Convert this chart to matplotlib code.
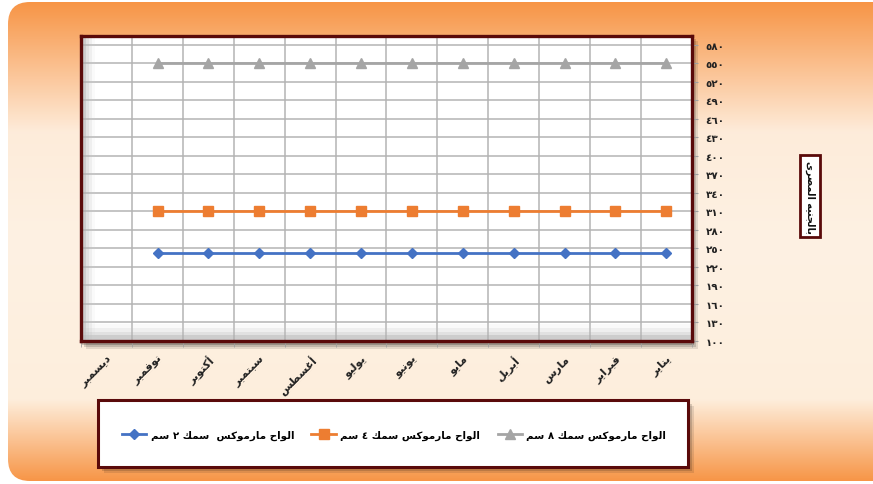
import numpy as np
import matplotlib
matplotlib.use("Agg")
import matplotlib.pyplot as plt
from matplotlib.patches import FancyBboxPatch, Rectangle
from matplotlib.ticker import FixedLocator, FuncFormatter

# ---------------- data ----------------
months = ["يناير", "فبراير", "مارس", "أبريل", "مايو", "يونيو",
          "يوليو", "أغسطس", "سبتمبر", "أكتوبر", "نوفمبر", "ديسمبر"]
s2_name = "الواح مارموكس  سمك ٢ سم"
s4_name = "الواح مارموكس سمك ٤ سم"
s8_name = "الواح مارموكس سمك ٨ سم"
s2_vals = [243, 243, 243, 243, 243, 243, 243, 243, 243, 243, 243, np.nan]
s4_vals = [310, 310, 310, 310, 310, 310, 310, 310, 310, 310, 310, np.nan]
s8_vals = [550, 550, 550, 550, 550, 550, 550, 550, 550, 550, 550, np.nan]
y_ticks = list(range(100, 581, 30))
y_title = "بالجنيه المصرى"

# ---------------- arabic shaping helper ----------------
FORMS = {
    'ا': ('\uFE8D', '\uFE8E', None, None),
    'أ': ('\uFE83', '\uFE84', None, None),
    'ب': ('\uFE8F', '\uFE90', '\uFE91', '\uFE92'),
    'ت': ('\uFE95', '\uFE96', '\uFE97', '\uFE98'),
    'ج': ('\uFE9D', '\uFE9E', '\uFE9F', '\uFEA0'),
    'ح': ('\uFEA1', '\uFEA2', '\uFEA3', '\uFEA4'),
    'د': ('\uFEA9', '\uFEAA', None, None),
    'ر': ('\uFEAD', '\uFEAE', None, None),
    'س': ('\uFEB1', '\uFEB2', '\uFEB3', '\uFEB4'),
    'ص': ('\uFEB9', '\uFEBA', '\uFEBB', '\uFEBC'),
    'ط': ('\uFEC1', '\uFEC2', '\uFEC3', '\uFEC4'),
    'غ': ('\uFECD', '\uFECE', '\uFECF', '\uFED0'),
    'ف': ('\uFED1', '\uFED2', '\uFED3', '\uFED4'),
    'ك': ('\uFED9', '\uFEDA', '\uFEDB', '\uFEDC'),
    'ل': ('\uFEDD', '\uFEDE', '\uFEDF', '\uFEE0'),
    'م': ('\uFEE1', '\uFEE2', '\uFEE3', '\uFEE4'),
    'ن': ('\uFEE5', '\uFEE6', '\uFEE7', '\uFEE8'),
    'ه': ('\uFEE9', '\uFEEA', '\uFEEB', '\uFEEC'),
    'و': ('\uFEED', '\uFEEE', None, None),
    'ي': ('\uFEF1', '\uFEF2', '\uFEF3', '\uFEF4'),
    'ى': ('\uFEEF', '\uFEF0', None, None),
}


def shape(s):
    chars = list(s)
    tokens = []
    i = 0
    while i < len(chars):
        c = chars[i]
        if c == 'ل' and i + 1 < len(chars) and chars[i + 1] in ('ا', 'أ'):
            tokens.append('LA' if chars[i + 1] == 'ا' else 'LAH')
            i += 2
        else:
            tokens.append(c)
            i += 1

    def dual(t):
        return t in FORMS and FORMS[t][2] is not None

    def joins(t):
        return t in FORMS or t in ('LA', 'LAH')

    res = []
    for k, t in enumerate(tokens):
        prev = tokens[k - 1] if k > 0 else None
        nxt = tokens[k + 1] if k + 1 < len(tokens) else None
        jp = prev is not None and dual(prev)
        if t in ('LA', 'LAH'):
            iso, fin = ('\uFEFB', '\uFEFC') if t == 'LA' else ('\uFEF7', '\uFEF8')
            res.append(fin if jp else iso)
            continue
        if t not in FORMS:
            res.append(t)
            continue
        f = FORMS[t]
        jn = f[2] is not None and nxt is not None and joins(nxt)
        if jp and jn:
            res.append(f[3])
        elif jp:
            res.append(f[1])
        elif jn:
            res.append(f[2])
        else:
            res.append(f[0])
    return ''.join(reversed(res))


AR_DIGITS = str.maketrans('0123456789', '٠١٢٣٤٥٦٧٨٩')

# ---------------- figure ----------------
W, H = 873, 485
fig = plt.figure(figsize=(W / 100, H / 100), dpi=100)
fig.patch.set_facecolor('white')

# background decoration axes in pixel coordinates
bg = fig.add_axes([0, 0, 1, 1])
bg.set_xlim(0, W)
bg.set_ylim(H, 0)
bg.axis('off')
stops = [(0.0, (0.969, 0.584, 0.275)), (0.27, (0.996, 0.925, 0.855)),
         (0.50, (0.996, 0.945, 0.890)), (0.83, (0.996, 0.935, 0.865)),
         (1.0, (0.969, 0.588, 0.282))]
n = 300
t = np.linspace(0, 1, n)
grad = np.zeros((n, 1, 3))
for ch in range(3):
    grad[:, 0, ch] = np.interp(t, [s[0] for s in stops], [s[1][ch] for s in stops])
im = bg.imshow(grad, extent=(8, W + 40, 482, 3), aspect='auto', zorder=0)
clip = FancyBboxPatch((8, 3), W + 30, 479, boxstyle="round,pad=0,rounding_size=22",
                      transform=bg.transData, facecolor='none', edgecolor='none')
bg.add_patch(clip)
im.set_clip_path(clip)

# shadows for plot area and legend box
for off, a in [(6, 0.10), (4, 0.15), (2, 0.2)]:
    bg.add_patch(Rectangle((80 + off, 36 + off), 612, 308, facecolor='black',
                           alpha=a, edgecolor='none', zorder=1))
    bg.add_patch(Rectangle((98 + off, 401 + off), 590, 67, facecolor='black',
                           alpha=a, edgecolor='none', zorder=1))
# legend box
bg.add_patch(Rectangle((98, 401), 590, 67, facecolor='white', edgecolor='#5A0A0A',
                       linewidth=2.2, zorder=2))

# ---------------- main axes ----------------
x0, x1 = 81.3, 691.7
ytop, ybot = 37.0, 341.7
ax = fig.add_axes([x0 / W, 1 - ybot / H, (x1 - x0) / W, (ybot - ytop) / H])
ax.set_facecolor('white')

x = np.arange(len(months))
ax.plot(x, s2_vals, color='#4472C4', lw=2, marker='D', ms=5.5, label=shape(s2_name), zorder=5)
ax.plot(x, s4_vals, color='#ED7D31', lw=2, marker='s', ms=7, label=shape(s4_name), zorder=5)
ax.plot(x, s8_vals, color='#A5A5A5', lw=2, marker='^', ms=7, label=shape(s8_name), zorder=5)

ax.set_xlim(len(months) - 0.5, -0.5)
ax.set_ylim(100, 594.6)

# bevel effect on left and bottom inside plot area
for i, (a, c) in enumerate([(0.35, '#A0A0A0'), (0.25, '#B0B0B0'), (0.18, '#C0C0C0'), (0.1, '#D0D0D0')]):
    ax.add_patch(Rectangle((0, 0), 1, 0.018 + i * 0.012, transform=ax.transAxes,
                           facecolor=c, alpha=a, edgecolor='none', zorder=1))
    ax.add_patch(Rectangle((0, 0), 0.008 + i * 0.005, 1, transform=ax.transAxes,
                           facecolor=c, alpha=a, edgecolor='none', zorder=1))

ax.yaxis.tick_right()
ax.yaxis.set_major_locator(FixedLocator(y_ticks))
ax.yaxis.set_major_formatter(FuncFormatter(lambda v, p: str(int(round(v))).translate(AR_DIGITS)))
ax.tick_params(axis='y', which='major', direction='out', length=4, color='#A0A0A0',
               pad=6, labelsize=7.5, labelcolor='#222222')
for lab in ax.get_yticklabels():
    lab.set_fontweight('bold')

ax.xaxis.set_major_locator(FixedLocator(x))
ax.set_xticklabels([shape(m) for m in months], rotation=45, ha='right', va='top',
                   rotation_mode='anchor', fontsize=8, fontweight='bold', color='#222222')
ax.xaxis.set_minor_locator(FixedLocator(np.arange(-0.5, len(months), 1.0)))
ax.tick_params(axis='x', which='major', length=0, pad=9)
ax.tick_params(axis='x', which='minor', length=4, color='#A0A0A0', direction='out')

ax.grid(axis='y', which='major', color='#B4B4B4', lw=1.1, zorder=0)
ax.grid(axis='x', which='minor', color='#B4B4B4', lw=1.1, zorder=0)
ax.set_axisbelow(True)
for sp in ax.spines.values():
    sp.set_color('#5A0A0A')
    sp.set_linewidth(2.4)

# legend
leg = fig.legend(loc='center', bbox_to_anchor=(394 / W, 1 - 436 / H), ncol=3,
                 frameon=False, handlelength=2.4, columnspacing=1.7,
                 handletextpad=0.4, prop={'weight': 'bold', 'size': 7.4})

# y-axis title box
fig.text(810 / W, 1 - 197 / H, shape(y_title), rotation=-90, ha='center', va='center',
         fontsize=7, fontweight='bold', color='#111111',
         bbox=dict(boxstyle='square,pad=0.5', facecolor='white', edgecolor='#5A0A0A', linewidth=2))

fig.savefig('out.png', dpi=100)
